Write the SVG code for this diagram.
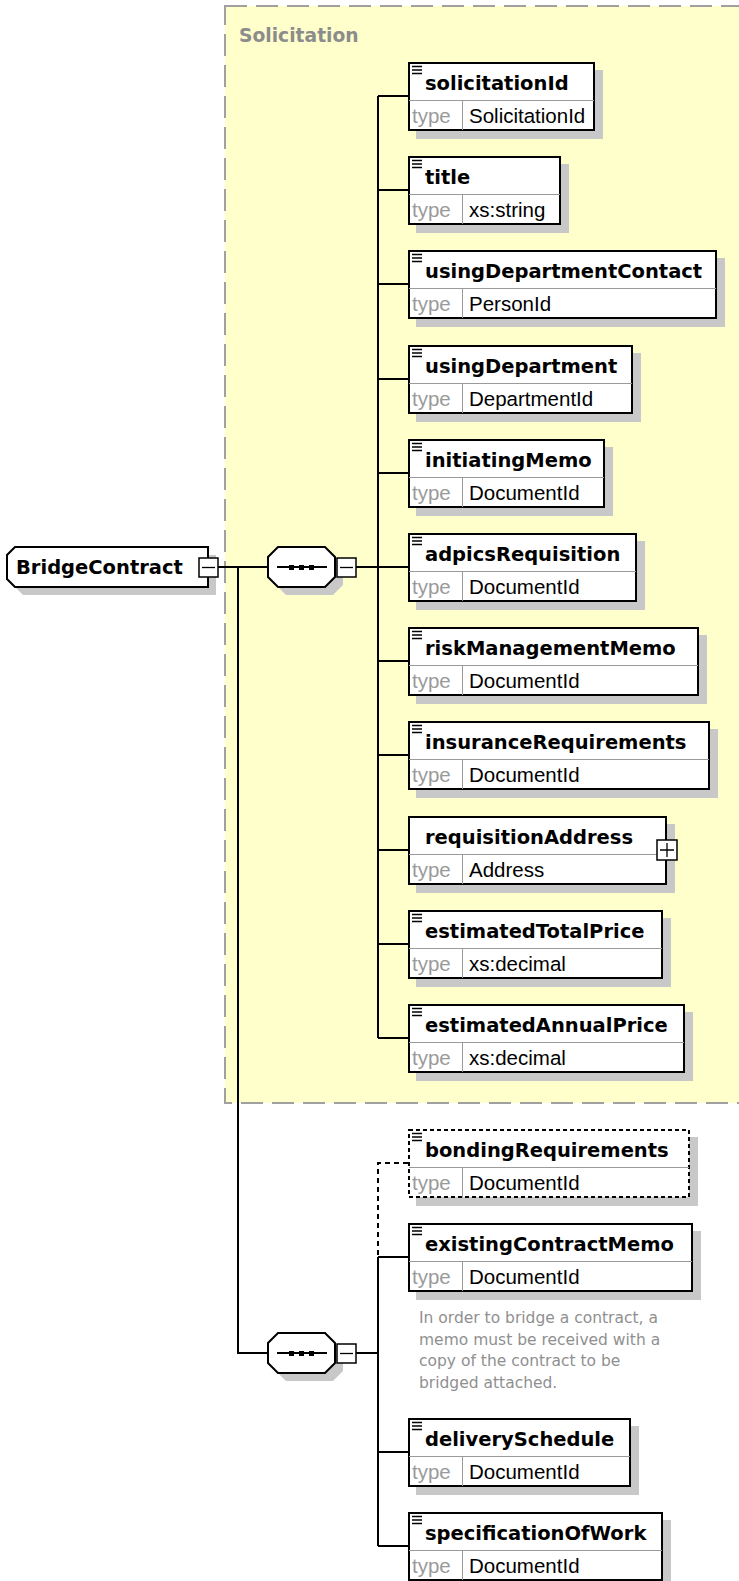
<svg xmlns="http://www.w3.org/2000/svg" width="739" height="1581" viewBox="0 0 739 1581">
<style>
.shadow{fill:#c8c8c8}
.box{fill:#fff;stroke:#000;stroke-width:2}
.dbox{fill:#fff;stroke:#000;stroke-width:2;stroke-dasharray:4 3}
.div{stroke:#9a9a9a;stroke-width:1;fill:none}
.icon{stroke:#000;stroke-width:1.3;fill:none}
.name{font-family:"DejaVu Sans",Verdana,sans-serif;font-weight:bold;font-size:19.5px;fill:#000}
.tl{font-family:"Liberation Sans",Arial,sans-serif;font-size:20.5px;fill:#9a9a9a}
.tv{font-family:"Liberation Sans",Arial,sans-serif;font-size:20.5px;fill:#000}
.conn{stroke:#000;stroke-width:2;fill:none}
.dconn{stroke:#000;stroke-width:2;fill:none;stroke-dasharray:5 4}
.btn{fill:#fff;stroke:#000;stroke-width:1.5}
.doc{font-family:"DejaVu Sans",Verdana,sans-serif;font-size:15.5px;fill:#909090}
</style>
<rect width="739" height="1581" fill="#fff"/>
<g id="group-Solicitation">
<rect x="225" y="6" width="540" height="1097" fill="#ffffcc" stroke="#a0a0a0" stroke-width="2" stroke-dasharray="22 9"/>
<text x="239" y="42" font-family="DejaVu Sans, Verdana, sans-serif" font-weight="bold" font-size="18.7" fill="#8c8c8c">Solicitation</text>
</g>
<g id="connectors">
<path class="conn" d="M218 567H268M238 567V1353H268M356 567H378M378 96V1038"/>
<path class="conn" d="M378 96H408M378 190H408M378 284H408M378 379H408M378 473H408M378 567H408M378 661H408M378 755H408M378 850H408M378 944H408M378 1038H408"/>
<path class="conn" d="M356 1353H378M378 1257V1546M378 1257H408M378 1452H408M378 1546H408"/>
<path class="dconn" d="M408 1163H378V1257"/>
</g>
<g id="n-BridgeContract">
<polygon class="shadow" points="23,555 216,555 216,595 23,595 15,587 15,563"/>
<polygon class="box" points="15,547 208,547 208,587 15,587 7,579 7,555"/>
<rect class="btn" x="199" y="558" width="19" height="19"/>
<path class="icon" d="M202 567.5h13" stroke-width="1.5"/>
<text class="name" x="16" y="574">BridgeContract</text>
</g>
<g id="seq-1">
<polygon class="shadow" points="286,555 333,555 343,565 343,585 333,595 286,595 276,585 276,565"/>
<polygon class="box" points="278,547 325,547 335,557 335,577 325,587 278,587 268,577 268,557"/>
<path class="conn" d="M277 567H327"/>
<rect x="289" y="565" width="5" height="5"/><rect x="299" y="565" width="5" height="5"/><rect x="309" y="565" width="5" height="5"/>
<rect class="btn" x="337" y="558" width="19" height="19"/>
<path class="icon" d="M340 567.5h13" stroke-width="1.5"/>
</g>
<g id="seq-2">
<polygon class="shadow" points="286,1341 333,1341 343,1351 343,1371 333,1381 286,1381 276,1371 276,1351"/>
<polygon class="box" points="278,1333 325,1333 335,1343 335,1363 325,1373 278,1373 268,1363 268,1343"/>
<path class="conn" d="M277 1353H327"/>
<rect x="289" y="1351" width="5" height="5"/><rect x="299" y="1351" width="5" height="5"/><rect x="309" y="1351" width="5" height="5"/>
<rect class="btn" x="337" y="1344" width="19" height="19"/>
<path class="icon" d="M340 1353.5h13" stroke-width="1.5"/>
</g>
<g id="n-solicitationId">
<rect class="shadow" x="416" y="70" width="187" height="69"/>
<rect class="box" x="409" y="63" width="185" height="67"/>
<path class="div" d="M409 100.5H594M462.5 100.5V130"/>
<path class="icon" d="M412 66.5h10M412 70h10M412 73.5h10"/>
<text class="name" x="425" y="90">solicitationId</text>
<text class="tl" x="412" y="123">type</text>
<text class="tv" x="469" y="123">SolicitationId</text>
</g>
<g id="n-title">
<rect class="shadow" x="416" y="164" width="153" height="69"/>
<rect class="box" x="409" y="157" width="151" height="67"/>
<path class="div" d="M409 194.5H560M462.5 194.5V224"/>
<path class="icon" d="M412 160.5h10M412 164h10M412 167.5h10"/>
<text class="name" x="425" y="184">title</text>
<text class="tl" x="412" y="217">type</text>
<text class="tv" x="469" y="217">xs:string</text>
</g>
<g id="n-usingDepartmentContact">
<rect class="shadow" x="416" y="258" width="309" height="69"/>
<rect class="box" x="409" y="251" width="307" height="67"/>
<path class="div" d="M409 288.5H716M462.5 288.5V318"/>
<path class="icon" d="M412 254.5h10M412 258h10M412 261.5h10"/>
<text class="name" x="425" y="278">usingDepartmentContact</text>
<text class="tl" x="412" y="311">type</text>
<text class="tv" x="469" y="311">PersonId</text>
</g>
<g id="n-usingDepartment">
<rect class="shadow" x="416" y="353" width="225" height="69"/>
<rect class="box" x="409" y="346" width="223" height="67"/>
<path class="div" d="M409 383.5H632M462.5 383.5V413"/>
<path class="icon" d="M412 349.5h10M412 353h10M412 356.5h10"/>
<text class="name" x="425" y="373">usingDepartment</text>
<text class="tl" x="412" y="406">type</text>
<text class="tv" x="469" y="406">DepartmentId</text>
</g>
<g id="n-initiatingMemo">
<rect class="shadow" x="416" y="447" width="197" height="69"/>
<rect class="box" x="409" y="440" width="195" height="67"/>
<path class="div" d="M409 477.5H604M462.5 477.5V507"/>
<path class="icon" d="M412 443.5h10M412 447h10M412 450.5h10"/>
<text class="name" x="425" y="467">initiatingMemo</text>
<text class="tl" x="412" y="500">type</text>
<text class="tv" x="469" y="500">DocumentId</text>
</g>
<g id="n-adpicsRequisition">
<rect class="shadow" x="416" y="541" width="229" height="69"/>
<rect class="box" x="409" y="534" width="227" height="67"/>
<path class="div" d="M409 571.5H636M462.5 571.5V601"/>
<path class="icon" d="M412 537.5h10M412 541h10M412 544.5h10"/>
<text class="name" x="425" y="561">adpicsRequisition</text>
<text class="tl" x="412" y="594">type</text>
<text class="tv" x="469" y="594">DocumentId</text>
</g>
<g id="n-riskManagementMemo">
<rect class="shadow" x="416" y="635" width="291" height="69"/>
<rect class="box" x="409" y="628" width="289" height="67"/>
<path class="div" d="M409 665.5H698M462.5 665.5V695"/>
<path class="icon" d="M412 631.5h10M412 635h10M412 638.5h10"/>
<text class="name" x="425" y="655">riskManagementMemo</text>
<text class="tl" x="412" y="688">type</text>
<text class="tv" x="469" y="688">DocumentId</text>
</g>
<g id="n-insuranceRequirements">
<rect class="shadow" x="416" y="729" width="302" height="69"/>
<rect class="box" x="409" y="722" width="300" height="67"/>
<path class="div" d="M409 759.5H709M462.5 759.5V789"/>
<path class="icon" d="M412 725.5h10M412 729h10M412 732.5h10"/>
<text class="name" x="425" y="749">insuranceRequirements</text>
<text class="tl" x="412" y="782">type</text>
<text class="tv" x="469" y="782">DocumentId</text>
</g>
<g id="n-requisitionAddress">
<rect class="shadow" x="416" y="824" width="259" height="69"/>
<rect class="box" x="409" y="817" width="257" height="67"/>
<path class="div" d="M409 854.5H666M462.5 854.5V884"/>
<text class="name" x="425" y="844">requisitionAddress</text>
<text class="tl" x="412" y="877">type</text>
<text class="tv" x="469" y="877">Address</text>
<rect class="btn" x="657" y="840" width="20" height="20"/>
<path class="icon" d="M660 850h14M667 843v14" stroke-width="1.5"/>
</g>
<g id="n-estimatedTotalPrice">
<rect class="shadow" x="416" y="918" width="255" height="69"/>
<rect class="box" x="409" y="911" width="253" height="67"/>
<path class="div" d="M409 948.5H662M462.5 948.5V978"/>
<path class="icon" d="M412 914.5h10M412 918h10M412 921.5h10"/>
<text class="name" x="425" y="938">estimatedTotalPrice</text>
<text class="tl" x="412" y="971">type</text>
<text class="tv" x="469" y="971">xs:decimal</text>
</g>
<g id="n-estimatedAnnualPrice">
<rect class="shadow" x="416" y="1012" width="277" height="69"/>
<rect class="box" x="409" y="1005" width="275" height="67"/>
<path class="div" d="M409 1042.5H684M462.5 1042.5V1072"/>
<path class="icon" d="M412 1008.5h10M412 1012h10M412 1015.5h10"/>
<text class="name" x="425" y="1032">estimatedAnnualPrice</text>
<text class="tl" x="412" y="1065">type</text>
<text class="tv" x="469" y="1065">xs:decimal</text>
</g>
<g id="n-bondingRequirements">
<rect class="shadow" x="416" y="1137" width="282" height="69"/>
<rect class="dbox" x="409" y="1130" width="280" height="67"/>
<path class="div" d="M409 1167.5H689M462.5 1167.5V1197"/>
<path class="icon" d="M412 1133.5h10M412 1137h10M412 1140.5h10"/>
<text class="name" x="425" y="1157">bondingRequirements</text>
<text class="tl" x="412" y="1190">type</text>
<text class="tv" x="469" y="1190">DocumentId</text>
</g>
<g id="n-existingContractMemo">
<rect class="shadow" x="416" y="1231" width="285" height="69"/>
<rect class="box" x="409" y="1224" width="283" height="67"/>
<path class="div" d="M409 1261.5H692M462.5 1261.5V1291"/>
<path class="icon" d="M412 1227.5h10M412 1231h10M412 1234.5h10"/>
<text class="name" x="425" y="1251">existingContractMemo</text>
<text class="tl" x="412" y="1284">type</text>
<text class="tv" x="469" y="1284">DocumentId</text>
<text class="doc" x="419" y="1323">In order to bridge a contract, a</text>
<text class="doc" x="419" y="1344.5">memo must be received with a</text>
<text class="doc" x="419" y="1366">copy of the contract to be</text>
<text class="doc" x="419" y="1387.5">bridged attached.</text>
</g>
<g id="n-deliverySchedule">
<rect class="shadow" x="416" y="1426" width="223" height="69"/>
<rect class="box" x="409" y="1419" width="221" height="67"/>
<path class="div" d="M409 1456.5H630M462.5 1456.5V1486"/>
<path class="icon" d="M412 1422.5h10M412 1426h10M412 1429.5h10"/>
<text class="name" x="425" y="1446">deliverySchedule</text>
<text class="tl" x="412" y="1479">type</text>
<text class="tv" x="469" y="1479">DocumentId</text>
</g>
<g id="n-specificationOfWork">
<rect class="shadow" x="416" y="1520" width="255" height="69"/>
<rect class="box" x="409" y="1513" width="253" height="67"/>
<path class="div" d="M409 1550.5H662M462.5 1550.5V1580"/>
<path class="icon" d="M412 1516.5h10M412 1520h10M412 1523.5h10"/>
<text class="name" x="425" y="1540">specificationOfWork</text>
<text class="tl" x="412" y="1573">type</text>
<text class="tv" x="469" y="1573">DocumentId</text>
</g>
</svg>
